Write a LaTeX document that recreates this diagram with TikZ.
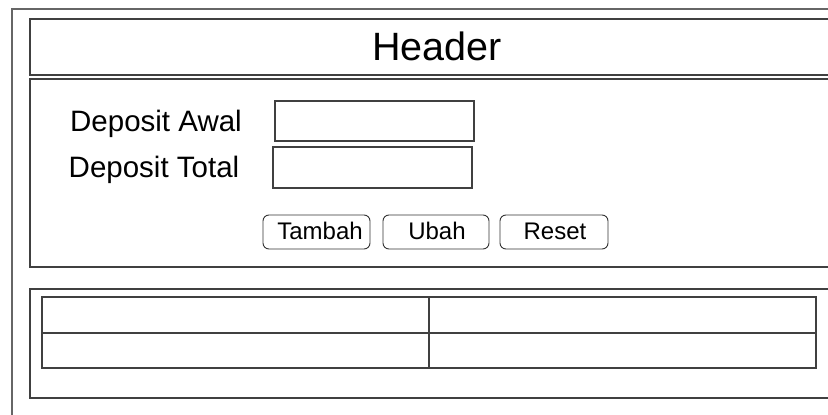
\documentclass[tikz,border=0pt]{standalone}
\usepackage{fontspec}
\setmainfont{Liberation Sans}
\begin{document}
\begin{tikzpicture}[x=1pt,y=-1pt,
  frame/.style={draw=black!75,line width=1.3pt},
  field/.style={draw=black!75,line width=1.3pt,inner sep=0pt},
  btn/.style={draw=black!80,line width=0.9pt,rounded corners=6pt,inner sep=0pt,minimum height=34pt},
  btntxt/.style={inner sep=0pt,anchor=base,font=\fontsize{24}{26}\selectfont},
  lbl/.style={inner sep=0pt,anchor=base,font=\fontsize{29.5}{31}\selectfont}]
\useasboundingbox (0,0) rectangle (828,415);
% outer frame
\draw[frame,draw=black!60] (12,415) -- (12,9) -- (828,9);
% header
\draw[frame] (828,19) -- (30,19) -- (30,75) -- (828,75);
\node[inner sep=0pt,anchor=base,font=\fontsize{39.5}{41}\selectfont] (hdr) at (437,60) {Header};
% form
\draw[frame] (828,79) -- (30,79) -- (30,267) -- (828,267);
\node[lbl] (l1) at (156,131) {Deposit Awal};
\node[lbl] (l2) at (154,177) {Deposit Total};
\node[field,minimum width=199pt,minimum height=40pt] (f1) at (374.5,121) {};
\node[field,minimum width=199pt,minimum height=41pt] (f2) at (372.5,167.5) {};
\node[btn,minimum width=107pt] (b1) at (316.5,232) {};
\node[btn,minimum width=106pt] (b2) at (436,232) {};
\node[btn,minimum width=108pt] (b3) at (554,232) {};
\node[btntxt] (t1) at (320,239) {Tambah};
\node[btntxt] (t2) at (437,239) {Ubah};
\node[btntxt] (t3) at (555,239) {Reset};
% table area
\draw[frame] (828,289) -- (30,289) -- (30,398) -- (828,398);
\draw[frame] (42,297) rectangle (816,368);
\draw[frame] (42,333) -- (816,333);
\draw[frame] (429,297) -- (429,368);
\end{tikzpicture}
\end{document}
